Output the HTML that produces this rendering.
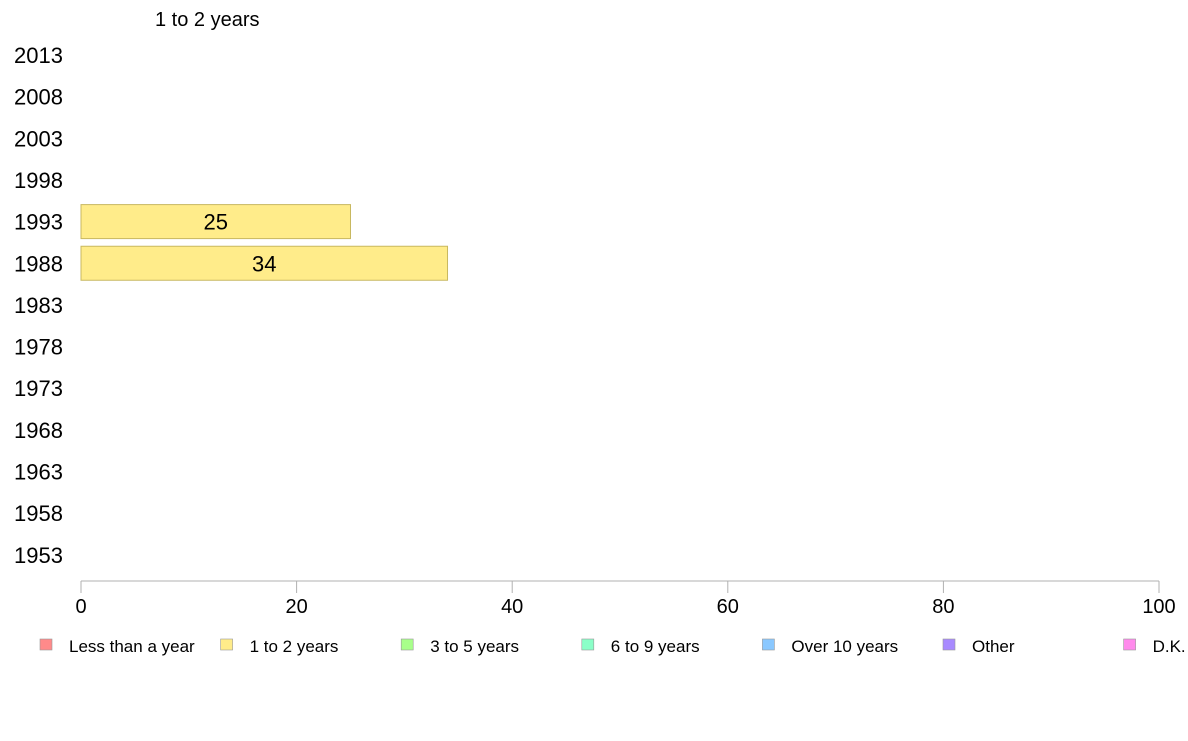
<!DOCTYPE html>
<html><head><meta charset="utf-8"><style>
body{margin:0;background:#fff;width:1188px;height:736px;overflow:hidden;font-family:"Liberation Sans",sans-serif}
</style></head><body>
<svg width="1188" height="736" font-family="Liberation Sans, sans-serif">
<text x="155" y="26" font-size="20">1 to 2 years</text>
<g id="ylabels"></g>
<g id="bars"></g>
<g id="xaxis"></g>
<g id="legend"></g>
</svg>
<script>
const years=["2013","2008","2003","1998","1993","1988","1983","1978","1973","1968","1963","1958","1953"];
const values=[null,null,null,null,25,34,null,null,null,null,null,null,null];
const xTicks=[0,20,40,60,80,100];
const legendLabels=["Less than a year","1 to 2 years","3 to 5 years","6 to 9 years","Over 10 years","Other","D.K."];
const legendColors=["#ff8a8a","#ffec8a","#a8ff8a","#8affc8","#8ac8ff","#a88aff","#ff8aec"];
const NS="http://www.w3.org/2000/svg";
const x0=81,x1=1159,xMax=100;
const xs=v=>x0+(x1-x0)*v/xMax;
const yc=i=>55+i*41.65;
function mk(t,a,p){const e=document.createElementNS(NS,t);for(const k in a)e.setAttribute(k,a[k]);p.appendChild(e);return e;}
const yl=document.getElementById('ylabels'),bg=document.getElementById('bars'),xa=document.getElementById('xaxis'),lg=document.getElementById('legend');
years.forEach((y,i)=>{
 const t=mk('text',{x:14,y:yc(i)+8,'font-size':22},yl);t.textContent=y;
 
 
 const v=values[i];
 if(v!=null){
  const r=mk('rect',{x:x0,y:yc(i)-17,width:xs(v)-x0,height:34,fill:'#ffec8a',stroke:'#c8b860','stroke-width':1},bg);
  
  
  const l=mk('text',{x:(x0+xs(v))/2,y:yc(i)+8,'font-size':22,'text-anchor':'middle'},bg);l.textContent=v;
  
  
 }
});
const ax=mk('line',{x1:x0,x2:x1,y1:581,y2:581,stroke:'#b0b0b0','stroke-width':1},xa);


xTicks.forEach(v=>{
 const tk=mk('line',{x1:xs(v),x2:xs(v),y1:581,y2:593,stroke:'#b0b0b0'},xa);
 
 
 const t=mk('text',{x:xs(v),y:613,'font-size':20,'text-anchor':'middle'},xa);t.textContent=v;
 
 
});
legendLabels.forEach((s,i)=>{
 const x=40+i*180.6;
 const g=mk('g',{},lg);
 
 
 mk('rect',{x:x,y:639,width:12,height:11,fill:legendColors[i],stroke:'#999','stroke-width':0.6},g);
 const t=mk('text',{x:x+29,y:652,'font-size':17},g);t.textContent=s;
});
</script>
</body></html>
